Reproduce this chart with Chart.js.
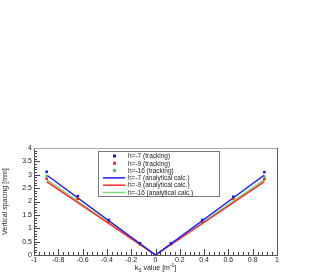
<!DOCTYPE html>
<html><head><meta charset="utf-8">
<script src="https://cdn.jsdelivr.net/npm/chart.js@4/dist/chart.umd.min.js"></script>
<style>html,body{margin:0;padding:0;background:#fff;}#wrap{width:327px;height:273px;}</style>
</head><body><div id="wrap"><canvas id="c" width="327" height="273"></canvas></div>
<script>
const xTrack = [-0.896, -0.64, -0.384, -0.128, 0.128, 0.384, 0.64, 0.896];
const trackH7 = [3.11, 2.20, 1.31, 0.44, 0.44, 1.31, 2.18, 3.10];
const trackH9 = [2.85, 2.10, 1.24, 0.41, 0.41, 1.24, 2.10, 2.83];
const trackH16 = [2.95, 2.14, 1.27, 0.42, 0.42, 1.27, 2.14, 2.92];
const xCalc = [-0.896, 0, 0.896];
const calcH7 = [2.99, 0, 2.99];
const calcH9 = [2.74, 0, 2.74];
const calcH16 = [2.82, 0, 2.82];
const seriesLabels = ["h=-7 (tracking)", "h=-9 (tracking)", "h=-16 (tracking)",
  "h=-7 (analytical calc.)", "h=-9 (analytical calc.)", "h=-16 (analytical calc.)"];
const xTitle = ["k", "S", " value [m", "-1", "]"];
const yTitle = "Vertical spacing [mm]";

const pts = (xs, ys) => xs.map((x, i) => ({x: x, y: ys[i]}));
const FONT = "'Liberation Sans', Arial, sans-serif";
const fmt = v => String(+Number(v).toFixed(2));

const frameAndTicks = {
  id: 'frameAndTicks',
  afterDatasetsDraw(chart) {
    const ctx = chart.ctx, a = chart.chartArea;
    const xs = chart.scales.x, ys = chart.scales.y;
    ctx.save();
    ctx.strokeStyle = '#444';
    ctx.lineWidth = 1;
    for (let i = 0; i <= 40; i++) {
      const v = i * 0.1;
      const p = Math.round(ys.getPixelForValue(v)) + 0.5;
      const len = (i % 5 === 0) ? 6 : 3;
      ctx.beginPath(); ctx.moveTo(a.left, p); ctx.lineTo(a.left + len, p); ctx.stroke();
    }
    for (let i = 0; i <= 50; i++) {
      const v = -1 + i * 0.04;
      const p = Math.round(xs.getPixelForValue(v)) + 0.5;
      const len = (i % 5 === 0) ? 6 : 3;
      ctx.beginPath(); ctx.moveTo(p, a.bottom); ctx.lineTo(p, a.bottom - len); ctx.stroke();
    }
    ctx.strokeStyle = '#555';
    ctx.strokeRect(Math.round(a.left) + 0.5, Math.round(a.top) + 0.5,
      Math.round(a.right - a.left), Math.round(a.bottom - a.top));
    ctx.strokeStyle = '#aaa';
    ctx.beginPath(); ctx.moveTo(a.left, Math.round(a.top) + 0.5); ctx.lineTo(a.right, Math.round(a.top) + 0.5); ctx.stroke();

    const bx = 98.5, by = 151.5, bw = 121, bh = 45;
    ctx.fillStyle = '#fff';
    ctx.fillRect(bx, by, bw, bh);
    ctx.strokeStyle = '#777';
    ctx.strokeRect(bx, by, bw, bh);
    ctx.font = '6.5px ' + FONT;
    ctx.textBaseline = 'middle';
    ctx.textAlign = 'left';
    chart.data.datasets.forEach((ds, i) => {
      const yy = by + 4.5 + i * 7.3;
      if (ds.showLine === false) {
        ctx.fillStyle = ds.backgroundColor;
        ctx.fillRect(113, yy - 1.5, 3, 3);
      } else {
        ctx.strokeStyle = ds.borderColor;
        ctx.lineWidth = 1.5;
        ctx.beginPath(); ctx.moveTo(103, yy); ctx.lineTo(125, yy); ctx.stroke();
      }
      ctx.fillStyle = '#222';
      ctx.fillText(ds.label, 128, yy + 0.5);
    });

    ctx.fillStyle = '#222';
    ctx.textBaseline = 'alphabetic';
    const big = '7px ' + FONT, small = '5px ' + FONT;
    ctx.font = big; const w0 = ctx.measureText(xTitle[0]).width;
    ctx.font = small; const w1 = ctx.measureText(xTitle[1]).width;
    ctx.font = big; const w2 = ctx.measureText(xTitle[2]).width;
    ctx.font = small; const w3 = ctx.measureText(xTitle[3]).width;
    ctx.font = big; const w4 = ctx.measureText(xTitle[4]).width;
    const total = w0 + w1 + w2 + w3 + w4;
    let cx = (a.left + a.right) / 2 - total / 2;
    const base = 270;
    ctx.font = big; ctx.fillText(xTitle[0], cx, base); cx += w0;
    ctx.font = small; ctx.fillText(xTitle[1], cx, base + 1.5); cx += w1;
    ctx.font = big; ctx.fillText(xTitle[2], cx, base); cx += w2;
    ctx.font = small; ctx.fillText(xTitle[3], cx, base - 3.5); cx += w3;
    ctx.font = big; ctx.fillText(xTitle[4], cx, base);
    ctx.restore();
  }
};

new Chart(document.getElementById('c'), {
  type: 'scatter',
  data: {
    datasets: [
      {label: seriesLabels[0], data: pts(xTrack, trackH7), showLine: false, backgroundColor: '#1414ff', borderColor: '#1414ff', pointStyle: 'rect', pointRadius: 1.8, borderWidth: 0},
      {label: seriesLabels[1], data: pts(xTrack, trackH9), showLine: false, backgroundColor: '#ff2020', borderColor: '#ff2020', pointStyle: 'rect', pointRadius: 1.8, borderWidth: 0},
      {label: seriesLabels[2], data: pts(xTrack, trackH16), showLine: false, backgroundColor: '#44cc44', borderColor: '#44cc44', pointStyle: 'rect', pointRadius: 1.8, borderWidth: 0},
      {label: seriesLabels[3], data: pts(xCalc, calcH7), showLine: true, borderColor: '#1a1aff', backgroundColor: '#1a1aff', borderWidth: 1.5, pointRadius: 0},
      {label: seriesLabels[4], data: pts(xCalc, calcH9), showLine: true, borderColor: '#ff2a2a', backgroundColor: '#ff2a2a', borderWidth: 1.5, pointRadius: 0},
      {label: seriesLabels[5], data: pts(xCalc, calcH16), showLine: true, borderColor: '#77dd77', backgroundColor: '#77dd77', borderWidth: 1.5, pointRadius: 0}
    ]
  },
  options: {
    responsive: false,
    animation: false,
    layout: {padding: {top: 148, right: 50, left: 0, bottom: 0}},
    plugins: {legend: {display: false}, tooltip: {enabled: false}},
    scales: {
      x: {
        type: 'linear', min: -1, max: 1,
        grid: {display: false, drawTicks: false, tickLength: 0}, border: {display: false},
        ticks: {stepSize: 0.2, color: '#222', font: {family: FONT, size: 7}, padding: 1, maxRotation: 0, autoSkip: false, callback: fmt},
        afterFit(s) { s.height = 18; }
      },
      y: {
        type: 'linear', min: 0, max: 4,
        grid: {display: false, drawTicks: false, tickLength: 0}, border: {display: false},
        ticks: {stepSize: 0.5, color: '#222', font: {family: FONT, size: 7}, padding: 2, callback: fmt},
        title: {display: true, text: yTitle, color: '#222', font: {family: FONT, size: 7}, padding: {top: 1, bottom: 0}},
        afterFit(s) { s.width = 34; }
      }
    }
  },
  plugins: [frameAndTicks]
});
</script>
</body></html>
